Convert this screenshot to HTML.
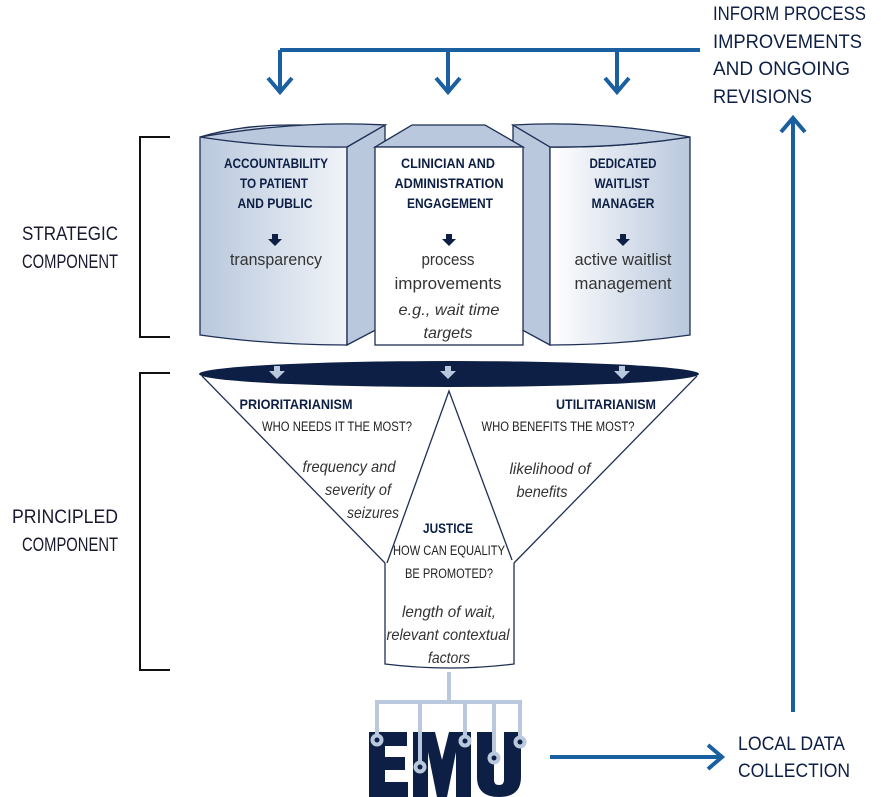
<!DOCTYPE html>
<html><head><meta charset="utf-8"><style>
html,body{margin:0;padding:0;background:#fff;}
svg{display:block;}
text{font-family:"Liberation Sans",sans-serif;}
.h{font-weight:bold;fill:#0d1f45;font-size:14px;text-anchor:middle;}
.b{fill:#333;font-size:17px;text-anchor:middle;}
.i{fill:#333;font-size:16px;text-anchor:middle;font-style:italic;}
.s{fill:#222;font-size:13.5px;text-anchor:middle;}
.L{fill:#1a1a2e;font-size:19px;}
.B{fill:#0d1f45;font-size:19px;}
</style></head><body>
<svg width="881" height="797" viewBox="0 0 881 797" xmlns="http://www.w3.org/2000/svg">
<defs>
<linearGradient id="g" x1="0" x2="1" y1="0" y2="0">
<stop offset="0" stop-color="#b9c8dd"/><stop offset="1" stop-color="#ffffff"/></linearGradient>
<linearGradient id="g2" x1="0" x2="1" y1="0" y2="0">
<stop offset="0" stop-color="#ffffff"/><stop offset="1" stop-color="#b9c8dd"/></linearGradient>
</defs>
<g stroke="#1a5fa0" stroke-width="4" fill="none">
<polyline points="280,50 700,50"/>
<line x1="280" y1="50" x2="280" y2="90"/>
<line x1="448" y1="50" x2="448" y2="90"/>
<line x1="617" y1="50" x2="617" y2="90"/>
<polyline points="268,78 280,92 292,78"/>
<polyline points="436,78 448,92 460,78"/>
<polyline points="605,78 617,92 629,78"/>
<line x1="793" y1="712" x2="793" y2="120"/>
<polyline points="781,132 793,118 805,132"/>
<line x1="550" y1="757" x2="720" y2="757"/>
<polyline points="708,745 722,757 708,769"/>
</g>
<g lengthAdjust="spacingAndGlyphs">
<text class="B" x="713" y="20" textLength="153" lengthAdjust="spacingAndGlyphs">INFORM PROCESS</text>
<text class="B" x="713" y="48" textLength="149" lengthAdjust="spacingAndGlyphs">IMPROVEMENTS</text>
<text class="B" x="713" y="75" textLength="137" lengthAdjust="spacingAndGlyphs">AND ONGOING</text>
<text class="B" x="713" y="103" textLength="99" lengthAdjust="spacingAndGlyphs">REVISIONS</text>
<text class="B" x="738" y="750" textLength="107" lengthAdjust="spacingAndGlyphs">LOCAL DATA</text>
<text class="B" x="738" y="777" textLength="112" lengthAdjust="spacingAndGlyphs">COLLECTION</text>
</g>
<g stroke="#111" stroke-width="2" fill="none">
<polyline points="170,137 140,137 140,337 170,337"/>
<polyline points="170,373 140,373 140,670 170,670"/>
</g>
<text class="L" x="22" y="240" textLength="96" lengthAdjust="spacingAndGlyphs">STRATEGIC</text>
<text class="L" x="22" y="268" textLength="96" lengthAdjust="spacingAndGlyphs">COMPONENT</text>
<text class="L" x="12" y="523" textLength="106" lengthAdjust="spacingAndGlyphs">PRINCIPLED</text>
<text class="L" x="22" y="551" textLength="96" lengthAdjust="spacingAndGlyphs">COMPONENT</text>
<g stroke="#1e2f55" stroke-width="1.3">
<path d="M200,137 Q240,125 290,125 L385,125 L347,147 L347,345 Q270,345 200,335 Z" fill="url(#g)"/>
<path d="M347,147 L385,125 L385,325 L347,345 Z" fill="#b9c8dd"/>
<path d="M200,137 Q270,148 347,147 L385,125 Q300,120 200,137Z" fill="#b9c8dd"/>
<path d="M513,125 L550,147 L550,345 L513,325 Z" fill="#b9c8dd"/>
<path d="M550,147 Q620,148 690,137 L690,335 Q620,345 550,345 Z" fill="url(#g2)"/>
<path d="M513,125 Q600,120 690,137 Q620,148 550,147 Z" fill="#b9c8dd"/>
<path d="M375,147 L412,125 L485,125 L523,147 Z" fill="#b9c8dd"/>
<rect x="375" y="147" width="148" height="198" fill="#fff"/>
</g>
<text class="h" x="276" y="168" textLength="104" lengthAdjust="spacingAndGlyphs">ACCOUNTABILITY</text>
<text class="h" x="274" y="188" textLength="68" lengthAdjust="spacingAndGlyphs">TO PATIENT</text>
<text class="h" x="275" y="208" textLength="75" lengthAdjust="spacingAndGlyphs">AND PUBLIC</text>
<text class="h" x="448" y="168" textLength="94" lengthAdjust="spacingAndGlyphs">CLINICIAN AND</text>
<text class="h" x="449" y="188" textLength="109" lengthAdjust="spacingAndGlyphs">ADMINISTRATION</text>
<text class="h" x="450" y="208" textLength="86" lengthAdjust="spacingAndGlyphs">ENGAGEMENT</text>
<text class="h" x="623" y="168" textLength="67" lengthAdjust="spacingAndGlyphs">DEDICATED</text>
<text class="h" x="622" y="188" textLength="55" lengthAdjust="spacingAndGlyphs">WAITLIST</text>
<text class="h" x="623" y="208" textLength="63" lengthAdjust="spacingAndGlyphs">MANAGER</text>
<g fill="#0d1f45">
<path d="M272,234 h6 v5 h4 l-7,7 l-7,-7 h4z"/>
<path d="M446,234 h6 v5 h4 l-7,7 l-7,-7 h4z"/>
<path d="M620,234 h6 v5 h4 l-7,7 l-7,-7 h4z"/>
</g>
<text class="b" x="276" y="265" textLength="92" lengthAdjust="spacingAndGlyphs">transparency</text>
<text class="b" x="448" y="265" textLength="53" lengthAdjust="spacingAndGlyphs">process</text>
<text class="b" x="448" y="289" textLength="107" lengthAdjust="spacingAndGlyphs">improvements</text>
<text class="i" x="449" y="315" textLength="101" lengthAdjust="spacingAndGlyphs">e.g., wait time</text>
<text class="i" x="448" y="338" textLength="49" lengthAdjust="spacingAndGlyphs">targets</text>
<text class="b" x="623" y="265" textLength="97" lengthAdjust="spacingAndGlyphs">active waitlist</text>
<text class="b" x="623" y="289" textLength="97" lengthAdjust="spacingAndGlyphs">management</text>
<g stroke="#1e2f55" stroke-width="1.3" fill="#fff">
<polyline points="202,376 385,563" fill="none"/>
<polyline points="697,376 514,563" fill="none"/>
<polyline points="387,563 449,391 512,560" fill="none"/>
<path d="M385,563 L385,664 Q449,672 514,664 L514,563" />
</g>
<ellipse cx="449" cy="374" rx="250" ry="13" fill="#0d1f45"/>
<g fill="#b9c8dd">
<path d="M274,366 h6 v5 h5 l-8,8 l-8,-8 h5z"/>
<path d="M445,366 h6 v5 h5 l-8,8 l-8,-8 h5z"/>
<path d="M619,366 h6 v5 h5 l-8,8 l-8,-8 h5z"/>
</g>
<text class="h" x="296" y="409" textLength="113" lengthAdjust="spacingAndGlyphs">PRIORITARIANISM</text>
<text class="s" x="337" y="431" textLength="150" lengthAdjust="spacingAndGlyphs">WHO NEEDS IT THE MOST?</text>
<text class="i" x="349" y="472" textLength="93" lengthAdjust="spacingAndGlyphs">frequency and</text>
<text class="i" x="358" y="495" textLength="66" lengthAdjust="spacingAndGlyphs">severity of</text>
<text class="i" x="373" y="518" textLength="52" lengthAdjust="spacingAndGlyphs">seizures</text>
<text class="h" x="606" y="409" textLength="100" lengthAdjust="spacingAndGlyphs">UTILITARIANISM</text>
<text class="s" x="558" y="431" textLength="153" lengthAdjust="spacingAndGlyphs">WHO BENEFITS THE MOST?</text>
<text class="i" x="550" y="474" textLength="81" lengthAdjust="spacingAndGlyphs">likelihood of</text>
<text class="i" x="542" y="497" textLength="51" lengthAdjust="spacingAndGlyphs">benefits</text>
<text class="h" x="448" y="533" textLength="50" lengthAdjust="spacingAndGlyphs">JUSTICE</text>
<text class="s" x="449" y="555" textLength="112" lengthAdjust="spacingAndGlyphs">HOW CAN EQUALITY</text>
<text class="s" x="449" y="578" textLength="88" lengthAdjust="spacingAndGlyphs">BE PROMOTED?</text>
<text class="i" x="449" y="617" textLength="94" lengthAdjust="spacingAndGlyphs">length of wait,</text>
<text class="i" x="448" y="640" textLength="123" lengthAdjust="spacingAndGlyphs">relevant contextual</text>
<text class="i" x="449" y="663" textLength="42" lengthAdjust="spacingAndGlyphs">factors</text>
<g fill="#0d1f45">
<path d="M369,732 h38 v14 h-22 v11 h20 v13 h-20 v12 h23 v15 h-39z"/>
<path d="M413,732 h22 l7,28 l7,-28 h22 v65 h-15 v-45 l-9,45 h-10 l-9,-45 v45 h-15z"/>
<path d="M477,732 h17 v48 q0,5 5,5 q5,0 5,-5 v-48 h17 v45 q0,20 -22,20 q-22,0 -22,-20z"/>
</g>
<g stroke="#b9c8dd" stroke-width="4" fill="none">
<line x1="449" y1="672" x2="449" y2="702"/>
<polyline points="377,740 377,702 520,702 520,740"/>
<line x1="420" y1="702" x2="420" y2="765"/>
<line x1="465" y1="702" x2="465" y2="740"/>
<line x1="494" y1="702" x2="494" y2="756"/>
</g>
<g fill="#b9c8dd" stroke="#b9c8dd"><circle cx="377" cy="740" r="6"/><circle cx="420" cy="767" r="6"/><circle cx="465" cy="741" r="6"/><circle cx="494" cy="758" r="6"/><circle cx="520" cy="742" r="6"/></g>
<g fill="#0d1f45"><circle cx="377" cy="740" r="2.5"/><circle cx="420" cy="767" r="2.5"/><circle cx="465" cy="741" r="2.5"/><circle cx="494" cy="758" r="2.5"/><circle cx="520" cy="742" r="2.5"/></g>
</svg>
</body></html>
